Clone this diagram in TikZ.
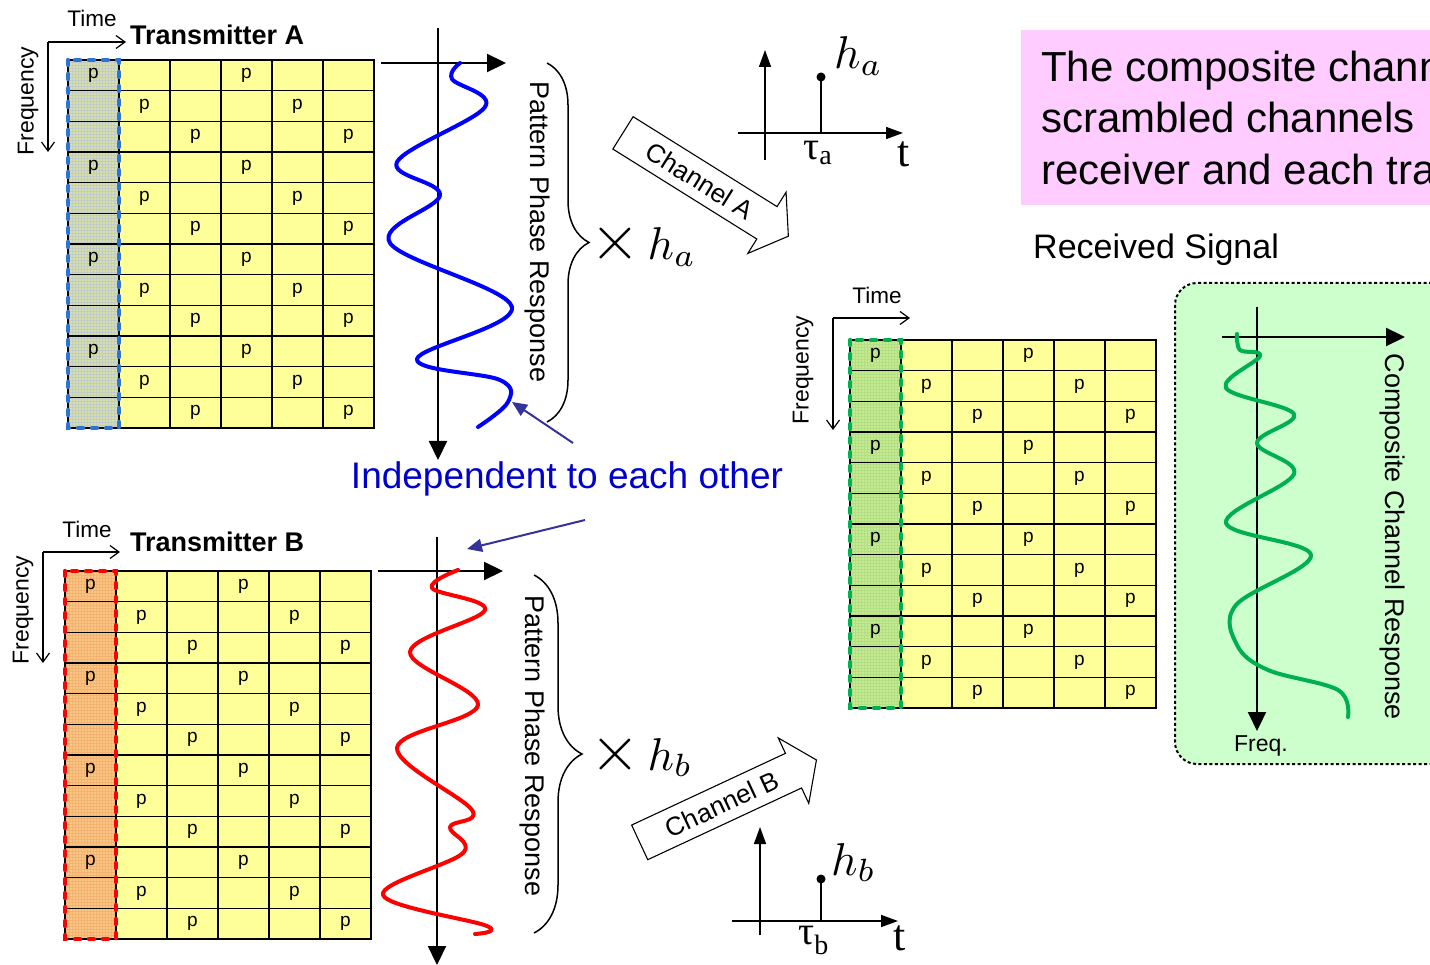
\documentclass[tikz,border=0pt]{standalone}
\usepackage{graphicx}
\usepackage{fontspec}
\setmainfont{Liberation Sans}
\newfontfamily\timesfont{Liberation Serif}
\usetikzlibrary{arrows.meta,positioning,shapes.arrows,decorations.pathreplacing,patterns,calc}
\usepackage{xcolor}
\definecolor{cellyellow}{HTML}{FFFF99}
\definecolor{pilotAfill}{HTML}{D8DEA4}
\definecolor{pilotAline}{HTML}{C0CCC8}
\definecolor{pilotBfill}{HTML}{FAC684}
\definecolor{pilotBline}{HTML}{F4B272}
\definecolor{pilotRfill}{HTML}{C6EA90}
\definecolor{pilotRline}{HTML}{B2DE86}
\definecolor{edgeAcol}{HTML}{2E72D2}
\definecolor{edgeBcol}{HTML}{FF0000}
\definecolor{edgeRcol}{HTML}{00B050}
\definecolor{indepblue}{HTML}{0000CC}
\definecolor{pointerblue}{HTML}{333399}
\definecolor{notepink}{HTML}{FFCCFF}
\definecolor{compgreen}{HTML}{CCFFCC}
\definecolor{curvegreen}{HTML}{00B050}
\tikzset{
  gridcell/.style={draw=black, line width=1.3pt, minimum width=51pt, minimum height=30.67pt, inner sep=0pt, font=\fontsize{19}{19}\selectfont},
  pilotA/.style={fill=pilotAfill, postaction={pattern=grid, pattern color=pilotAline}},
  pilotB/.style={fill=pilotBfill, postaction={pattern=grid, pattern color=pilotBline}},
  pilotR/.style={fill=pilotRfill, postaction={pattern=grid, pattern color=pilotRline}},
  edgeA/.style={draw=edgeAcol, line width=4.5pt, dash pattern=on 5pt off 9pt, line cap=round},
  edgeB/.style={draw=edgeBcol, line width=4.5pt, dash pattern=on 5pt off 9pt, line cap=round},
  edgeR/.style={draw=edgeRcol, line width=4.5pt, dash pattern=on 5pt off 9pt, line cap=round},
  tfarrow/.style={line width=1.2pt, -{Straight Barb[length=9pt, width=13pt]}},
  respaxis/.style={line width=2.2pt, -{Triangle[length=19pt, width=18pt]}},
  impaxis/.style={line width=1.6pt, -{Triangle[length=17pt, width=12pt]}},
  stemline/.style={line width=1.4pt},
  pointer/.style={draw=pointerblue, line width=2pt, -{Triangle[length=15pt, width=13pt]}},
  bracepath/.style={line width=1.5pt, decorate},
  curve/.style={line width=4pt, line cap=round, line join=round},
  timelbl/.style={font=\fontsize{22.5}{24}\selectfont, inner sep=0pt},
  freqlbl/.style={font=\fontsize{23}{24}\selectfont, inner sep=0pt},
  txlbl/.style={font=\bfseries\fontsize{27}{30}\selectfont, inner sep=0pt},
  pprlbl/.style={font=\fontsize{27}{30}\selectfont, inner sep=0pt},
  mathlbl/.style={inner sep=0pt},
  greeklbl/.style={inner sep=0pt, font=\timesfont\fontsize{40}{40}\selectfont},
  chanarrow/.style={single arrow, draw=black, line width=1.1pt, fill=white, font=\fontsize{26}{26}\selectfont, minimum height=195pt, single arrow head extend=17pt, single arrow tip angle=110, inner ysep=9pt, inner xsep=6pt},
  notebox/.style={fill=notepink, anchor=north west, align=left, inner xsep=20pt, inner ysep=0pt, minimum height=175pt, font=\fontsize{42}{51.5}\selectfont},
  compbox/.style={fill=compgreen, draw=black, line width=2pt, dash pattern=on 3pt off 2.5pt, rounded corners=22pt, anchor=north west}
}
\newcommand{\bigmath}[2]{\scalebox{#1}{$#2$}}
% time/frequency grid with pilot column
\newcommand{\pilotgrid}[2]{%
  \fill[cellyellow] (#2) rectangle ++(306,368);
  \fill[pilot#1] (#2) rectangle ++(51,368);
  \foreach \r in {0,...,11}{
    \foreach \c in {0,...,5}{
      \pgfmathtruncatemacro{\m}{mod(\c+12-\r,3)}
      \ifnum\m=0 \def\ptxt{\raisebox{-2pt}{p}}\else\def\ptxt{}\fi
      \node[gridcell] (#1-\r-\c) at ($(#2)+(\c*51+25.5,\r*30.667+15.333)$) {\ptxt};
    }
  }
  \draw[edge#1] (#2) rectangle ++(51,368);
}

\begin{document}
\begin{tikzpicture}[x=1pt, y=-1pt]
  \useasboundingbox (0,0) rectangle (1430,965);
  \clip (0,0) rectangle (1430,965);

  % transmitter A
  \pilotgrid{A}{68,60}
  \node[timelbl] (timeA) at (92,18) {Time};
  \draw[tfarrow] (48,42) -- (126,42);
  \draw[tfarrow] (48,42) -- (48,152);
  \node[freqlbl, rotate=90] (freqA) at (28,101) {Frequency};
  \node[txlbl, anchor=west] (txA) at (130,35) {Transmitter A};
  \draw[respaxis] (438,28) -- (438,460);
  \draw[respaxis] (381,63) -- (506,63);
  \draw[curve, blue] plot[smooth, tension=0.6] coordinates {(460,63) (452,79) (485,107) (397,162) (440,195) (390,243) (512,307) (417,359) (500,380) (508,402) (478,427)};
  \draw[bracepath, decoration={brace, amplitude=42pt}] (547,63) -- (547,422);
  \node[pprlbl, rotate=-90] (pprA) at (537,232) {Pattern Phase Response};
  \node[mathlbl, anchor=base west] (xha) at (590,260) {\bigmath{6.4}{\times}\bigmath{4.6}{\,h_a}};
  \node[chanarrow, rotate=-32] (chA) at (700,181) {Channel A};
  \draw[impaxis] (765,160) -- (765,50);
  \draw[impaxis] (738,133) -- (903,133);
  \draw[stemline] (821,133) -- (821,77);
  \fill (821,77) circle (4.5);
  \node[mathlbl, anchor=base west] (haimp) at (834,69) {\bigmath{4.6}{h_a}};
  \node[greeklbl, anchor=base west] (taua) at (803,160) {τ\textsubscript{a}};
  \node[greeklbl, anchor=base west, font=\timesfont\fontsize{44}{44}\selectfont] (tA) at (897,167) {t};

  % transmitter B
  \pilotgrid{B}{65,571}
  \node[timelbl] (timeB) at (87,529) {Time};
  \draw[tfarrow] (43,552) -- (120,552);
  \draw[tfarrow] (43,552) -- (43,663);
  \node[freqlbl, rotate=90] (freqB) at (23,610) {Frequency};
  \node[txlbl, anchor=west] (txB) at (130,542) {Transmitter B};
  \draw[respaxis] (437,537) -- (437,965);
  \draw[respaxis] (378,571) -- (503,571);
  \draw[curve, red] plot[smooth, tension=0.6] coordinates {(458,570) (432,588) (485,610) (410,652) (478,705) (397,748) (472,810) (450,827) (463,853) (383,895) (487,926) (475,934)};
  \draw[bracepath, decoration={brace, amplitude=48pt}] (534,575) -- (534,933);
  \node[pprlbl, rotate=-90] (pprB) at (532,746) {Pattern Phase Response};
  \node[mathlbl, anchor=base west] (xhb) at (590,770) {\bigmath{6.4}{\times}\bigmath{4.6}{\,h_b}};
  \node[chanarrow, rotate=25] (chB) at (722,804) {Channel B};
  \draw[impaxis] (760,935) -- (760,827);
  \draw[impaxis] (732,921) -- (898,921);
  \draw[stemline] (821,921) -- (821,879);
  \fill (821,879) circle (4.5);
  \node[mathlbl, anchor=base west] (hbimp) at (831,875) {\bigmath{4.6}{h_b}};
  \node[greeklbl, anchor=base west] (taub) at (798,944) {τ\textsubscript{b}};
  \node[greeklbl, anchor=base west, font=\timesfont\fontsize{44}{44}\selectfont] (tB) at (893,950) {t};

  % independence note
  \node[font=\fontsize{37}{40}\selectfont, text=indepblue, inner sep=0pt] (indep) at (567,479) {Independent to each other};
  \coordinate (blueend) at (512,402);
  \coordinate (redend) at (467,549);
  \draw[pointer] ([shift={(6,-36)}]indep.center) -- (blueend);
  \draw[pointer] ([shift={(18,41)}]indep.center) -- (redend);

  % receiver
  \node[notebox] (note) at (1021,30) {The composite chann\\scrambled channels\\receiver and each tra};
  \node[font=\fontsize{34}{36}\selectfont, anchor=west, inner sep=0pt] (recv) at (1033,250) {Received Signal};
  \pilotgrid{R}{850,340}
  \node[timelbl] (timeR) at (877,295) {Time};
  \draw[tfarrow] (833,318) -- (910,318);
  \draw[tfarrow] (833,318) -- (833,430);
  \node[freqlbl, rotate=90] (freqR) at (803,370) {Frequency};
  \node[compbox, minimum width=290pt, minimum height=481pt] (comp) at (1174,282) {};
  \draw[respaxis] (1257,307) -- (1257,731);
  \draw[respaxis] (1222,337) -- (1405,337);
  \draw[curve, curvegreen] plot[smooth, tension=0.6] coordinates {(1237,334) (1240,350) (1260,356) (1226,388) (1294,414) (1257,443) (1294,474) (1226,523) (1311,555) (1236,605) (1237,645) (1268,670) (1338,690) (1348,717)};
  \node[pprlbl, rotate=-90] (compresp) at (1392,537) {Composite Channel Response};
  \node[freqlbl] (freqlbl) at (1261,746) {Freq.};
\end{tikzpicture}
\end{document}
